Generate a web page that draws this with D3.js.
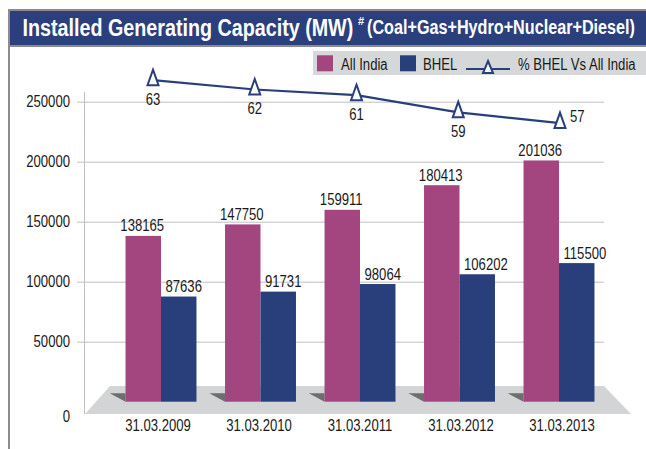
<!DOCTYPE html>
<html>
<head>
<meta charset="utf-8">
<script src="https://cdn.jsdelivr.net/npm/d3@7"></script>
<style>
  html, body { margin: 0; padding: 0; background: #fff; }
  svg { display: block; }
  text { font-family: "Liberation Sans", Arial, sans-serif; }
</style>
</head>
<body>
<svg id="chart" width="646" height="449"></svg>
<script>
// data
const categories = ["31.03.2009", "31.03.2010", "31.03.2011", "31.03.2012", "31.03.2013"];
const allIndia = [138165, 147750, 159911, 180413, 201036];
const bhel = [87636, 91731, 98064, 106202, 115500];
const pctBhel = [63.4, 62.1, 61.3, 58.9, 57.4];
const yTicks = [0, 50000, 100000, 150000, 200000, 250000];
const seriesNames = ["All India", "BHEL"];

const colors = { "All India": "#A3467F", "BHEL": "#293F7B" };
const lineColor = "#293F7B";
const gridColor = "#BFBFBF";

const svg = d3.select("#chart");

// no narrow font installed: squeeze regular text horizontally around its x
function narrow(sel, k = 0.82) {
  sel.each(function () {
    const tx = +(this.getAttribute("x") || 0);
    d3.select(this).attr("transform", `translate(${tx},0) scale(${k},1) translate(${-tx},0)`);
  });
}

// frame + title bar
svg.append("rect")
  .attr("x", 9).attr("y", 10).attr("width", 640).attr("height", 445)
  .style("fill", "none").style("stroke", "#8C8C8C").style("stroke-width", 2);

svg.append("rect")
  .attr("x", 10).attr("y", 11).attr("width", 640).attr("height", 34)
  .style("fill", "#2A3F7C");
svg.append("line")
  .attr("x1", 10).attr("x2", 646).attr("y1", 46).attr("y2", 46)
  .style("stroke", "#8C8C8C").style("stroke-width", 2);

const titleMain = svg.append("text")
  .attr("x", 22.5).attr("y", 36)
  .style("font-size", "24px").style("font-weight", "bold").style("fill", "#fff")
  .text("Installed Generating Capacity (MW)");
svg.append("text")
  .attr("x", 358).attr("y", 25)
  .style("font-size", "11px").style("font-weight", "bold").style("fill", "#fff")
  .text("#");
const titleSub = svg.append("text")
  .attr("x", 367).attr("y", 34.5)
  .style("font-size", "20px").style("font-weight", "bold").style("fill", "#fff")
  .text("(Coal+Gas+Hydro+Nuclear+Diesel)");

// fit title pieces to their widths in the picture
titleMain.call(narrow, 331 / titleMain.node().getComputedTextLength());
titleSub.call(narrow, 268 / titleSub.node().getComputedTextLength());

// scales
const x = d3.scaleBand()
  .domain(categories)
  .range([111.25, 608.75])
  .paddingInner(0.287)
  .paddingOuter(0.1435);

const xSub = d3.scaleBand()
  .domain(seriesNames)
  .range([0, x.bandwidth()]);

const xLine = d3.scalePoint().domain(categories).range([153, 560]);
const xLabel = d3.scalePoint().domain(categories).range([158, 562]);

const y = d3.scaleLinear().domain([0, 250000]).range([401.7, 101.7]);
const y2 = d3.scaleLinear().domain([50, 70]).range([176, 33]);

// floor
svg.append("polygon")
  .attr("points", [[110, 386], [604, 386], [631, 414], [85, 414]].map(p => p.join(",")).join(" "))
  .style("fill", "#D3D4D6");

// y axis with gridlines
const yAxis = svg.append("g")
  .attr("transform", "translate(77,0)")
  .call(d3.axisLeft(y).tickValues(yTicks).tickFormat(d3.format("d"))
    .tickSizeInner(-527).tickSizeOuter(0).tickPadding(7));

yAxis.select(".domain").remove();
yAxis.selectAll(".tick line").style("stroke", gridColor);
yAxis.selectAll(".tick text")
  .style("font-size", "16px").style("fill", "#1a1a1a")
  .attr("font-family", null)
  .call(narrow);
yAxis.selectAll(".tick").filter(d => d === 0)
  .attr("transform", `translate(0,${y(0) + 15})`)
  .select("line").remove();

// back wall edge
svg.append("line")
  .attr("x1", 84.5).attr("x2", 84.5).attr("y1", 92).attr("y2", 414)
  .style("stroke", gridColor);

// little shadows on floor
svg.append("g")
  .selectAll("polygon")
  .data(categories)
  .join("polygon")
  .attr("points", d => {
    const bx = x(d);
    return `${bx - 15.7},393.3 ${bx},393.3 ${bx},${y(0)}`;
  })
  .style("fill", "#6E6E6E");

// bars
const barData = categories.flatMap((c, i) => [
  { cat: c, series: "All India", value: allIndia[i] },
  { cat: c, series: "BHEL", value: bhel[i] }
]);

svg.append("g")
  .selectAll("rect")
  .data(barData)
  .join("rect")
  .attr("x", d => x(d.cat) + xSub(d.series))
  .attr("y", d => y(d.value))
  .attr("width", xSub.bandwidth())
  .attr("height", d => y(0) - y(d.value))
  .style("fill", d => colors[d.series]);

// bar value labels
svg.append("g")
  .selectAll("text")
  .data(barData)
  .join("text")
  .attr("x", d => d.series === "All India"
    ? x(d.cat) + xSub(d.series) + xSub.bandwidth() / 2 - 1
    : x(d.cat) + xSub(d.series) + 4.5)
  .attr("y", d => y(d.value) - 4.5)
  .attr("text-anchor", d => d.series === "All India" ? "middle" : "start")
  .style("font-size", "16px")
  .style("fill", "#1a1a1a")
  .text(d => d.value)
  .call(narrow);

// category labels
svg.append("g")
  .selectAll("text")
  .data(categories)
  .join("text")
  .attr("x", d => xLabel(d))
  .attr("y", 431.5)
  .attr("text-anchor", "middle")
  .style("font-size", "16px")
  .style("fill", "#1a1a1a")
  .text(d => d)
  .call(narrow);

// % line
const lineData = categories.map((c, i) => ({ cat: c, pct: pctBhel[i] }));

svg.append("path")
  .datum(lineData)
  .attr("d", d3.line().x(d => xLine(d.cat)).y(d => y2(d.pct)))
  .style("fill", "none")
  .style("stroke", lineColor)
  .style("stroke-width", 2.2);

const tri = "M0,-10.5 L5.5,5 L-5.5,5 Z";

svg.append("g")
  .selectAll("path")
  .data(lineData)
  .join("path")
  .attr("transform", d => `translate(${xLine(d.cat)},${y2(d.pct)})`)
  .attr("d", tri)
  .style("fill", "#fff")
  .style("stroke", lineColor)
  .style("stroke-width", 2);

const last = lineData.length - 1;
svg.append("g")
  .selectAll("text")
  .data(lineData)
  .join("text")
  .attr("x", (d, i) => i === last ? xLine(d.cat) + 10 : xLine(d.cat))
  .attr("y", (d, i) => i === last ? y2(d.pct) - 1 : y2(d.pct) + 24.5)
  .attr("text-anchor", (d, i) => i === last ? "start" : "middle")
  .style("font-size", "16px")
  .style("fill", "#1a1a1a")
  .text(d => d3.format(".0f")(d.pct))
  .call(narrow);

// legend
const legend = svg.append("g");
legend.append("rect")
  .attr("x", 313).attr("y", 51).attr("width", 340).attr("height", 24)
  .style("fill", "#D6D7D9");

const legendItems = [
  { name: "All India", sx: 317, tx: 341 },
  { name: "BHEL", sx: 400, tx: 423 }
];
legend.selectAll(".sw")
  .data(legendItems)
  .join("rect")
  .attr("class", "sw")
  .attr("x", d => d.sx).attr("y", 55.3)
  .attr("width", 16).attr("height", 16)
  .style("fill", d => colors[d.name]);
legend.selectAll(".lt")
  .data(legendItems)
  .join("text")
  .attr("class", "lt")
  .attr("x", d => d.tx).attr("y", 69.7)
  .style("font-size", "16px").style("fill", "#1a1a1a")
  .text(d => d.name)
  .call(narrow);

legend.append("line")
  .attr("x1", 466).attr("x2", 510).attr("y1", 69).attr("y2", 69)
  .style("stroke", lineColor).style("stroke-width", 2.2);
legend.append("path")
  .attr("transform", "translate(488,69)")
  .attr("d", "M0,-8 L5,4 L-5,4 Z")
  .style("fill", "#fff").style("stroke", lineColor).style("stroke-width", 2);
legend.append("text")
  .attr("x", 518).attr("y", 69.7)
  .style("font-size", "16px").style("fill", "#1a1a1a")
  .text("% BHEL Vs All India")
  .call(narrow);
</script>
</body>
</html>
